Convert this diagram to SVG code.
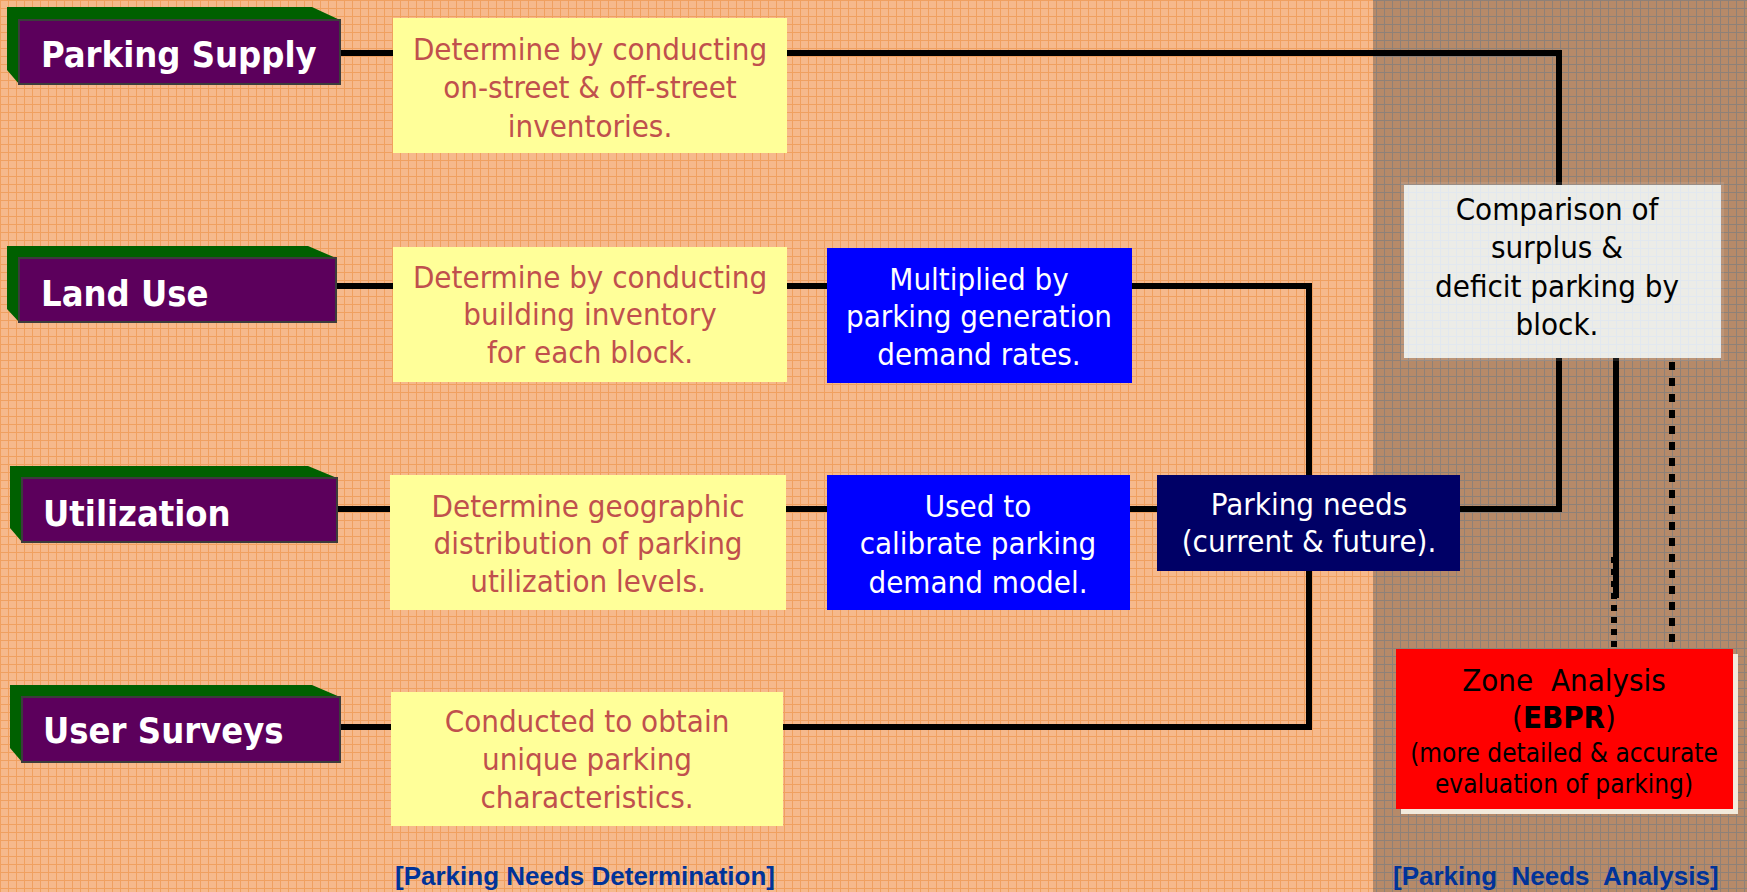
<svg xmlns="http://www.w3.org/2000/svg" width="1747" height="892" viewBox="0 0 1747 892">
<defs>
<pattern id="po" width="8" height="8" patternUnits="userSpaceOnUse">
<rect width="8" height="8" fill="#f6b98c"/>
<path d="M0.5 0V8M0 0.5H8" stroke="#f0a060" stroke-width="1"/>
</pattern>
<pattern id="pb" width="8" height="8" patternUnits="userSpaceOnUse">
<rect width="8" height="8" fill="#b68a69"/>
<path d="M0.5 0V8M0 0.5H8" stroke="#8e8178" stroke-width="1"/>
</pattern>
<pattern id="pg" width="8" height="8" patternUnits="userSpaceOnUse">
<rect width="8" height="8" fill="#ececE7"/>
<path d="M0.5 0V8M0 0.5H8" stroke="#e2e8ef" stroke-width="1"/>
</pattern>
</defs>
<style>
.conn { fill: none; stroke: #000; stroke-width: 6; }
.side { fill: #006000; }
.front { fill: #5c005c; stroke: #3c3c3c; stroke-width: 2; }
.f { font-family: "DejaVu Sans Condensed", "DejaVu Sans", sans-serif; font-stretch: condensed; }
.hd { font-weight: bold; font-size: 36px; fill: #ffffff; }
.yel { fill: #ffff99; }
.yt { font-size: 31px; fill: #c0504d; text-anchor: middle; }
.blue { fill: #0000ff; }
.wt { font-size: 31px; fill: #ffffff; text-anchor: middle; }
.bt { font-size: 31px; fill: #000000; text-anchor: middle; }
.lbl { font-family: "Liberation Sans", Arial, sans-serif; font-weight: bold; font-size: 26px; fill: #003399; white-space: pre; }
</style>

<rect x="0" y="0" width="1373" height="892" fill="url(#po)"/>
<rect x="1373" y="0" width="374" height="892" fill="url(#pb)"/>

<g id="connectors">
<path class="conn" d="M340 53H393M787 53H1559V185"/>
<path class="conn" d="M336 286H393M787 286H827"/>
<path class="conn" d="M1132 286H1309V727H783"/>
<path class="conn" d="M337 509H390M786 509H827M1130 509H1157"/>
<path class="conn" d="M340 727H391"/>
<path class="conn" d="M1460 509H1559V358"/>
<path class="conn" d="M1616 358V598"/>
<path class="conn" d="M1614 557V647" stroke-dasharray="6 6"/>
<path class="conn" d="M1672 362V642" stroke-width="8" stroke-dasharray="8 8"/>
</g>

<g id="parking-supply">
<polygon class="side" points="7,7 312,7 340,20 19,20 19,84 7,70"/>
<rect class="front" x="19" y="20" width="321" height="64"/>
<text class="f hd" x="41" y="67">Parking Supply</text>
</g>
<g id="land-use">
<polygon class="side" points="7,246 308,246 336,258 19,258 19,322 7,309"/>
<rect class="front" x="19" y="258" width="317" height="64"/>
<text class="f hd" x="41" y="306">Land Use</text>
</g>
<g id="utilization">
<polygon class="side" points="10,466 308,466 337,478 22,478 22,542 10,528"/>
<rect class="front" x="22" y="478" width="315" height="64"/>
<text class="f hd" x="43" y="526">Utilization</text>
</g>
<g id="user-surveys">
<polygon class="side" points="10,685 312,685 340,697 22,697 22,762 10,748"/>
<rect class="front" x="22" y="697" width="318" height="65"/>
<text class="f hd" x="43" y="743">User Surveys</text>
</g>

<g id="supply-inventory">
<rect class="yel" x="393" y="18" width="394" height="135"/>
<text class="f yt" x="590" y="60">Determine by conducting</text>
<text class="f yt" x="590" y="98">on-street &amp; off-street</text>
<text class="f yt" x="590" y="137">inventories.</text>
</g>
<g id="building-inventory">
<rect class="yel" x="393" y="247" width="394" height="135"/>
<text class="f yt" x="590" y="288">Determine by conducting</text>
<text class="f yt" x="590" y="325">building inventory</text>
<text class="f yt" x="590" y="363">for each block.</text>
</g>
<g id="utilization-levels">
<rect class="yel" x="390" y="475" width="396" height="135"/>
<text class="f yt" x="588" y="517">Determine geographic</text>
<text class="f yt" x="588" y="554">distribution of parking</text>
<text class="f yt" x="588" y="592">utilization levels.</text>
</g>
<g id="survey-characteristics">
<rect class="yel" x="391" y="692" width="392" height="134"/>
<text class="f yt" x="587" y="732">Conducted to obtain</text>
<text class="f yt" x="587" y="770">unique parking</text>
<text class="f yt" x="587" y="808">characteristics.</text>
</g>

<g id="demand-rates">
<rect class="blue" x="827" y="248" width="305" height="135"/>
<text class="f wt" x="979" y="290">Multiplied by</text>
<text class="f wt" x="979" y="327">parking generation</text>
<text class="f wt" x="979" y="365">demand rates.</text>
</g>
<g id="calibrate-model">
<rect class="blue" x="827" y="475" width="303" height="135"/>
<text class="f wt" x="978" y="517">Used to</text>
<text class="f wt" x="978" y="554">calibrate parking</text>
<text class="f wt" x="978" y="593">demand model.</text>
</g>

<g id="parking-needs">
<rect x="1157" y="475" width="303" height="96" fill="#000066"/>
<text class="f wt" x="1309" y="515">Parking needs</text>
<text class="f wt" x="1309" y="552">(current &amp; future).</text>
</g>

<g id="comparison">
<rect x="1401" y="182" width="323" height="179" fill="#ffffff" opacity="0.1"/>
<rect x="1404" y="185" width="317" height="173" fill="url(#pg)"/>
<text class="f bt" x="1557" y="220">Comparison of</text>
<text class="f bt" x="1557" y="258">surplus &amp;</text>
<text class="f bt" x="1557" y="297">deficit parking by</text>
<text class="f bt" x="1557" y="335">block.</text>
</g>

<g id="zone-analysis">
<rect x="1401" y="654" width="337" height="160" fill="#f2eadc"/>
<rect x="1396" y="649" width="337" height="160" fill="#ff0000"/>
<text class="f bt" x="1564" y="691" xml:space="preserve" style="white-space:pre">Zone  Analysis</text>
<text class="f bt" x="1564" y="728">(<tspan font-weight="bold">EBPR</tspan>)</text>
<text class="f bt" x="1564" y="762" style="font-size:26px">(more detailed &amp; accurate</text>
<text class="f bt" x="1564" y="793" style="font-size:26px">evaluation of parking)</text>
</g>

<g id="labels">
<text class="lbl" x="395" y="885">[Parking Needs Determination]</text>
<text class="lbl" x="1393" y="885" xml:space="preserve">[Parking  Needs  Analysis]</text>
</g>
</svg>
